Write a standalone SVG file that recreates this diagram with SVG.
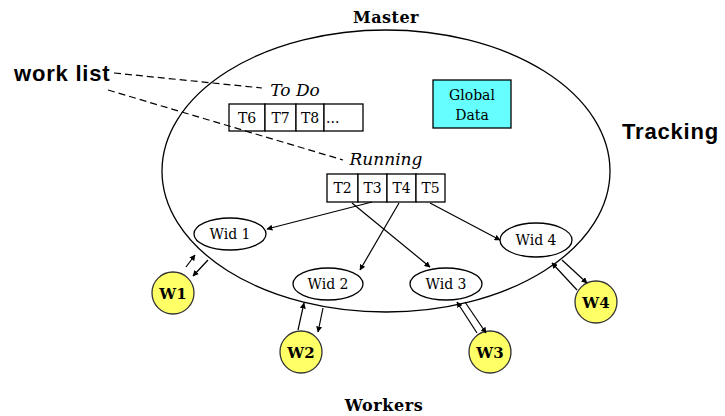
<svg xmlns="http://www.w3.org/2000/svg" width="725" height="416" viewBox="0 0 725 416">
<defs>
<marker id="ah" viewBox="0 0 10 10" refX="9" refY="5" markerWidth="6" markerHeight="6" orient="auto" markerUnits="userSpaceOnUse"><path d="M0,0 L10,5 L0,10 z" fill="#000"/></marker>
<style>
.s{font-family:"DejaVu Serif","Liberation Serif",serif;font-size:14px;fill:#000}
.i{font-family:"DejaVu Serif","Liberation Serif",serif;font-size:17px;font-style:italic;fill:#000}
.b{font-family:"DejaVu Serif","Liberation Serif",serif;font-size:16px;font-weight:bold;fill:#000}
.sb{font-family:"Liberation Sans",Arial,sans-serif;font-size:22px;font-weight:bold;fill:#000;letter-spacing:0.8px}
.cell{fill:#fff;stroke:#000;stroke-width:1.3}
.wid{fill:#fff;stroke:#000;stroke-width:1.3}
.w{fill:#ffff66;stroke:#333;stroke-width:1.3}
.wt{font-family:"DejaVu Serif","Liberation Serif",serif;font-size:15px;font-weight:bold;fill:#000}
.c{stroke:#000;stroke-width:1.2;fill:none}
.d{stroke:#000;stroke-width:1.2;fill:none;stroke-dasharray:7,4}
</style>
</defs>
<rect width="725" height="416" fill="#fff"/>
<g id="master">
<ellipse cx="386" cy="171" rx="224" ry="141" fill="none" stroke="#000" stroke-width="1.3"/>
<text class="b" x="386" y="23" text-anchor="middle" letter-spacing="0.5">Master</text>
</g>
<text class="b" x="384" y="411" text-anchor="middle" font-size="17" letter-spacing="0.6">Workers</text>
<text class="sb" x="622" y="139">Tracking</text>
<text class="sb" x="14" y="81">work list</text>
<g id="todo">
<text class="i" x="295" y="96" text-anchor="middle">To Do</text>
<rect class="cell" x="229" y="104" width="36" height="27"/>
<rect class="cell" x="265" y="104" width="31" height="27"/>
<rect class="cell" x="296" y="104" width="28" height="27"/>
<rect class="cell" x="324" y="104" width="39" height="27"/>
<text class="s" x="247" y="123" text-anchor="middle">T6</text>
<text class="s" x="280.5" y="123" text-anchor="middle">T7</text>
<text class="s" x="310" y="123" text-anchor="middle">T8</text>
<text class="s" x="326" y="123">...</text>
</g>
<g id="running">
<text class="i" x="386" y="165" text-anchor="middle">Running</text>
<rect class="cell" x="327" y="174" width="31" height="28"/>
<rect class="cell" x="358" y="174" width="29" height="28"/>
<rect class="cell" x="387" y="174" width="29" height="28"/>
<rect class="cell" x="416" y="174" width="29" height="28"/>
<text class="s" x="342.5" y="193" text-anchor="middle">T2</text>
<text class="s" x="372.5" y="193" text-anchor="middle">T3</text>
<text class="s" x="401.5" y="193" text-anchor="middle">T4</text>
<text class="s" x="430.5" y="193" text-anchor="middle">T5</text>
</g>
<g id="global">
<rect x="433" y="80" width="78" height="48" fill="#66ffff" stroke="#000" stroke-width="1.3"/>
<text class="s" x="472" y="100" text-anchor="middle">Global</text>
<text class="s" x="472" y="120" text-anchor="middle">Data</text>
</g>
<g id="wid1"><ellipse class="wid" cx="230" cy="234" rx="36" ry="16"/><text class="s" x="230" y="239" text-anchor="middle">Wid 1</text></g>
<g id="wid2"><ellipse class="wid" cx="328" cy="284" rx="35" ry="16"/><text class="s" x="328" y="289" text-anchor="middle">Wid 2</text></g>
<g id="wid3"><ellipse class="wid" cx="446" cy="284" rx="36" ry="16"/><text class="s" x="446" y="289" text-anchor="middle">Wid 3</text></g>
<g id="wid4"><ellipse class="wid" cx="536" cy="240" rx="36" ry="17"/><text class="s" x="536" y="245" text-anchor="middle">Wid 4</text></g>
<g id="w1"><circle class="w" cx="173" cy="293" r="21"/><text class="wt" x="173" y="299" text-anchor="middle">W1</text></g>
<g id="w2"><circle class="w" cx="301" cy="352" r="21"/><text class="wt" x="301" y="358" text-anchor="middle">W2</text></g>
<g id="w3"><circle class="w" cx="490" cy="352" r="21"/><text class="wt" x="490" y="358" text-anchor="middle">W3</text></g>
<g id="w4"><circle class="w" cx="596" cy="302" r="21"/><text class="wt" x="596" y="308" text-anchor="middle">W4</text></g>
<g id="connectors">
<line class="d" x1="114" y1="73" x2="262" y2="88"/>
<line class="d" x1="108" y1="90" x2="343" y2="160"/>
<line class="c" x1="372" y1="202" x2="267" y2="229" marker-end="url(#ah)"/>
<line class="c" x1="352" y1="203" x2="430" y2="267" marker-end="url(#ah)"/>
<line class="c" x1="399" y1="203" x2="360" y2="270" marker-end="url(#ah)"/>
<line class="c" x1="430" y1="203" x2="500" y2="240" marker-end="url(#ah)"/>
<line class="c" x1="186" y1="267" x2="195" y2="255" marker-end="url(#ah)"/>
<line class="c" x1="208" y1="260" x2="193" y2="276" marker-end="url(#ah)"/>
<line class="c" x1="298" y1="330" x2="304" y2="303" marker-end="url(#ah)"/>
<line class="c" x1="323" y1="308" x2="318" y2="332" marker-end="url(#ah)"/>
<line class="c" x1="477" y1="333" x2="457" y2="302" marker-end="url(#ah)"/>
<line class="c" x1="465" y1="302" x2="486" y2="333" marker-end="url(#ah)"/>
<line class="c" x1="577" y1="290" x2="552" y2="263" marker-end="url(#ah)"/>
<line class="c" x1="562" y1="260" x2="587" y2="283" marker-end="url(#ah)"/>
</g>
</svg>
